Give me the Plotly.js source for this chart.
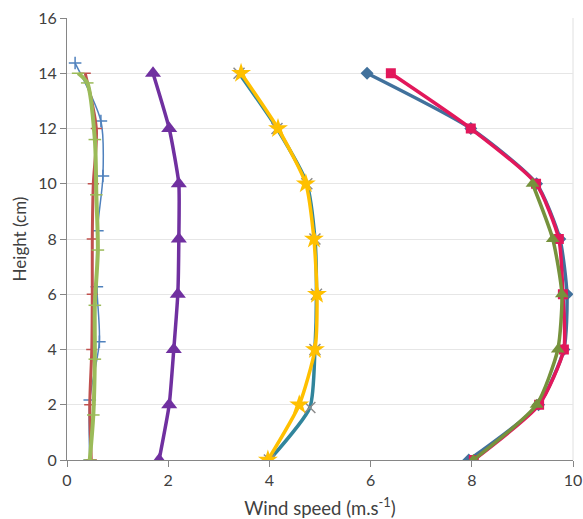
<!DOCTYPE html>
<html>
<head>
<meta charset="utf-8">
<script src="https://cdn.plot.ly/plotly-3.0.1.min.js"></script>
<style>html,body{margin:0;padding:0;background:#fff;}#chart{width:583px;height:519px;}</style>
</head>
<body>
<div id="chart"></div>
<script>
// Left group (thin profiles near 0.5 m/s)
const blueCrossX = [0.16, 0.67, 0.71, 0.60, 0.59, 0.64, 0.45, 0.45];
const blueCrossY = [14.37, 12.27, 10.28, 8.3, 6.27, 4.28, 2.17, 0];
const redDashX = [0.36, 0.58, 0.52, 0.50, 0.50, 0.49, 0.45, 0.48];
const redDashY = [14, 12, 10, 8, 6, 4, 2, 0];
const greenDashX = [0.22, 0.40, 0.55, 0.58, 0.61, 0.55, 0.55, 0.52, 0.45];
const greenDashY = [14, 13.65, 11.6, 9.6, 7.6, 5.6, 3.65, 1.63, 0];
// Purple triangles
const purpleX = [1.70, 2.02, 2.21, 2.21, 2.19, 2.11, 2.02, 1.82];
const purpleY = [14, 12, 10, 8, 6, 4, 2, 0];
// Middle group
const tealX = [3.40, 4.15, 4.74, 4.90, 4.93, 4.90, 4.80, 4.00];
const tealY = [14, 12, 10, 8, 6, 4, 1.9, 0];
const yellowX = [3.44, 4.17, 4.72, 4.88, 4.94, 4.90, 4.59, 3.97];
const yellowY = [14, 12, 10, 8, 6, 4, 2, 0];
// Right group
const blueDiamondX = [5.93, 7.98, 9.28, 9.74, 9.88, 9.82, 9.32, 7.94];
const blueDiamondY = [14, 12, 10, 8, 6, 4, 2, 0];
const pinkSquareX = [6.40, 7.98, 9.27, 9.72, 9.80, 9.82, 9.33, 8.04];
const pinkSquareY = [14, 12, 10, 8, 6, 4, 2, 0];
const greenTriX = [9.20, 9.60, 9.78, 9.70, 9.28, 8.03];
const greenTriY = [10, 8, 6, 4, 2, 0];

const xTicks = [0, 2, 4, 6, 8, 10];
const yTicks = [0, 2, 4, 6, 8, 10, 12, 14, 16];

function tr(x, y, color, width, symbol, msize, mcolor, mline, smooth) {
  return {
    x: x, y: y, type: 'scatter', mode: 'lines+markers',
    line: {color: color, width: width, shape: 'spline', smoothing: smooth === undefined ? 0.8 : smooth},
    marker: {symbol: symbol, size: msize, color: mcolor || color,
             line: {color: mline || mcolor || color, width: symbol.indexOf('open') >= 0 ? 1.5 : 0}},
    hoverinfo: 'x+y'
  };
}

const data = [
  tr(blueCrossX, blueCrossY, '#4F81BD', 1.5, 'cross-thin-open', 9, '#4F81BD'),
  tr(redDashX, redDashY, '#C0504D', 3, 'line-ew-open', 8, '#C0504D'),
  tr(greenDashX, greenDashY, '#9BBB59', 4, 'line-ew-open', 9, '#9BBB59'),
  tr(purpleX, purpleY, '#7030A0', 3.5, 'triangle-up', 14, '#7030A0', null, 0.5),
  tr(tealX, tealY, '#31859C', 3.5, 'x-thin-open', 11, '#8C8C8C', '#8C8C8C', 0.6),
  tr(yellowX, yellowY, '#FFC000', 3.5, 'star', 15, '#FFC000', null, 0.6),
  tr(blueDiamondX, blueDiamondY, '#41719C', 3.5, 'diamond', 10, '#41719C', null, 0.6),
  tr(pinkSquareX, pinkSquareY, '#E2185B', 3.5, 'square', 10, '#E2185B', null, 0.6),
  tr(greenTriX, greenTriY, '#76923C', 3.5, 'triangle-up', 12, '#76923C', null, 0.6)
];

const layout = {
  width: 583, height: 519,
  margin: {l: 67, r: 10, t: 18, b: 59},
  paper_bgcolor: '#ffffff', plot_bgcolor: '#ffffff',
  showlegend: false,
  font: {family: 'Lato, Open Sans, sans-serif', size: 16, color: '#404040'},
  xaxis: {
    range: [0, 10], tickvals: xTicks, ticktext: xTicks.map(String),
    showgrid: false, zeroline: false,
    showline: true, linecolor: '#868686', linewidth: 1,
    ticks: 'outside', ticklen: 6, tickcolor: '#868686',
    tickfont: {size: 16, color: '#404040'},
    title: {text: 'Wind speed (m.s<sup>-1</sup>)', font: {size: 18.5, color: '#404040'}, standoff: 13}
  },
  yaxis: {
    range: [0, 16], tickvals: yTicks, ticktext: yTicks.map(String),
    showgrid: true, gridcolor: '#E6E6E6', gridwidth: 1, zeroline: false,
    showline: true, linecolor: '#868686', linewidth: 1,
    ticks: 'outside', ticklen: 6, tickcolor: '#868686',
    tickfont: {size: 16, color: '#404040'},
    title: {text: 'Height (cm)', font: {size: 17, color: '#404040'}, standoff: 7}
  },
  shapes: [
    {type: 'line', xref: 'paper', yref: 'paper', x0: 1, x1: 1, y0: 0, y1: 1,
     line: {color: '#E0E0E0', width: 1}, layer: 'below'}
  ]
};

Plotly.newPlot('chart', data, layout, {displayModeBar: false, staticPlot: true});
</script>
</body>
</html>
